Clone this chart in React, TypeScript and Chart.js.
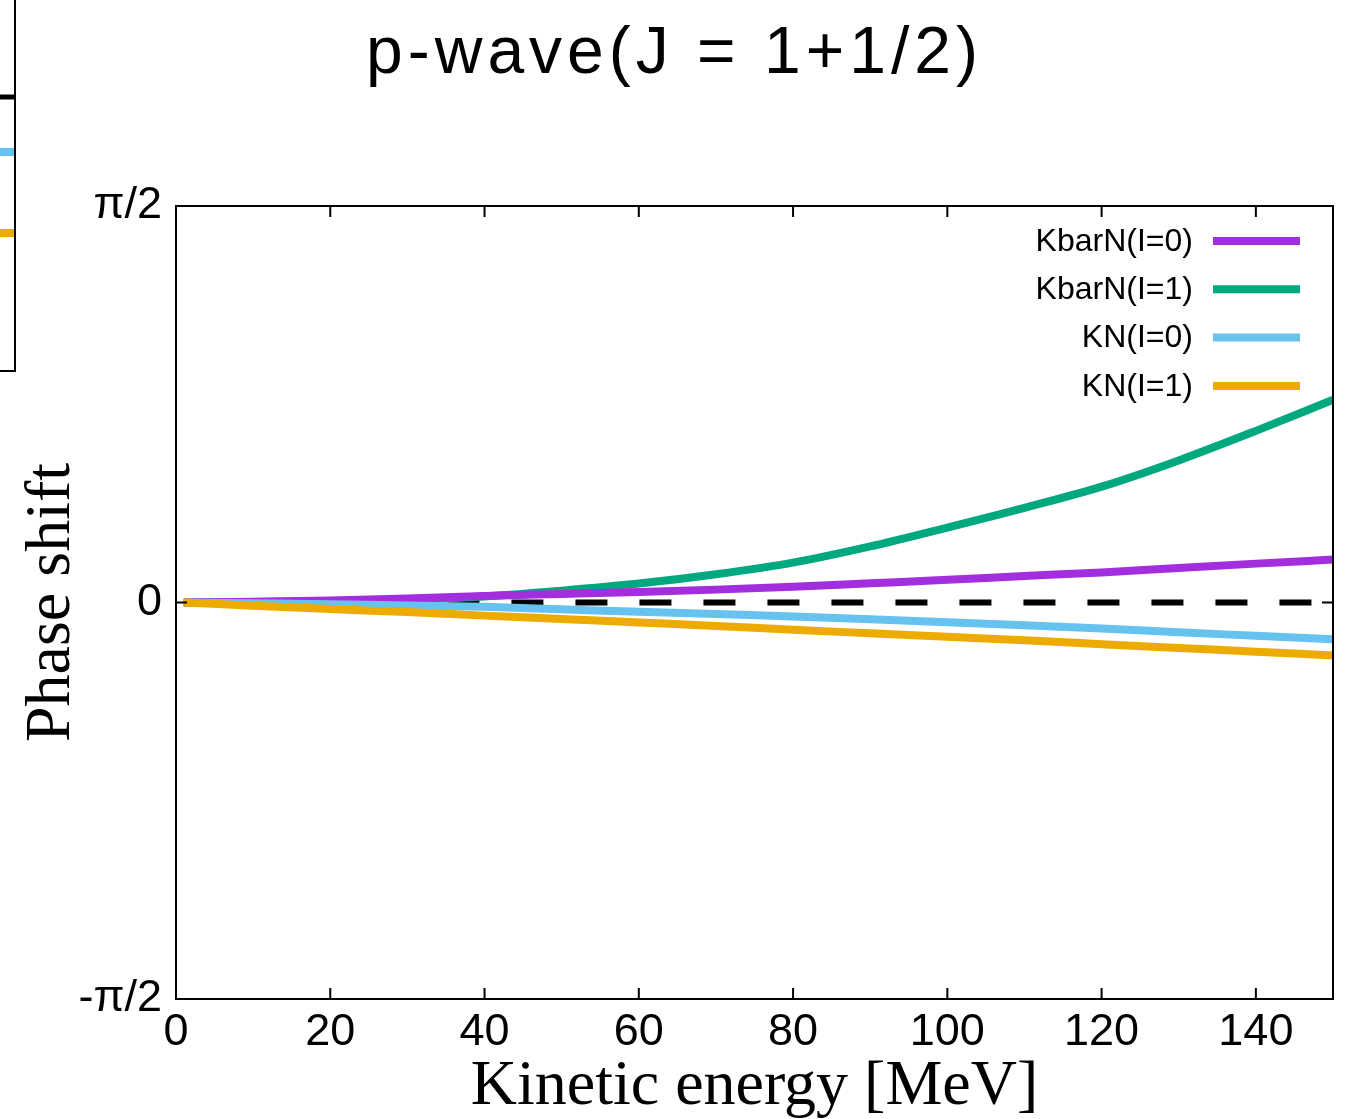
import React, { useEffect, useRef } from 'react';
import { Chart, registerables } from 'chart.js';

Chart.register(...registerables);

// Kinetic energy [MeV]
const energy = [1, 10, 20, 30, 40, 50, 60, 70, 80, 90, 100, 110, 120, 130, 140, 150];
// Phase shifts [rad]
const kbarN_I0 = [0, 0.003, 0.008, 0.016, 0.026, 0.034, 0.042, 0.051, 0.062, 0.076, 0.090, 0.105, 0.119, 0.137, 0.154, 0.170];
const kbarN_I1 = [0, 0.002, 0.005, 0.012, 0.024, 0.047, 0.075, 0.112, 0.158, 0.222, 0.297, 0.375, 0.459, 0.563, 0.680, 0.803];
const kN_I0 = [0, -0.003, -0.007, -0.012, -0.017, -0.027, -0.037, -0.046, -0.055, -0.066, -0.078, -0.090, -0.103, -0.118, -0.132, -0.146];
const kN_I1 = [0, -0.013, -0.026, -0.038, -0.052, -0.065, -0.079, -0.093, -0.108, -0.122, -0.136, -0.150, -0.165, -0.180, -0.195, -0.210];

const zeroLineX = [2, 150];
const zeroLineY = [0, 0];

const seriesLabels = ['KbarN(I=0)', 'KbarN(I=1)', 'KN(I=0)', 'KN(I=1)'];
const seriesValues = [kbarN_I0, kbarN_I1, kN_I0, kN_I1];
const seriesColors = ['#a32ede', '#00a880', '#66c2ee', '#edab00'];

const xTickValues = [0, 20, 40, 60, 80, 100, 120, 140];
const yTickValues = [-Math.PI / 2, 0, Math.PI / 2];
const yTickLabels = ['-π/2', '0', 'π/2'];

const chartTitle = 'p-wave(J = 1+1/2)';
const xTitle = 'Kinetic energy [MeV]';
const yTitle = 'Phase shift';

const SANS = '"Liberation Sans", Arial, sans-serif';
const SERIF = '"Liberation Serif", "Times New Roman", serif';

const framePlugin = {
  id: 'frameTicks',
  afterDatasetsDraw(chart: any) {
    const { ctx, chartArea, scales } = chart;
    const { left, right, top, bottom } = chartArea;
    ctx.save();
    ctx.strokeStyle = '#000';
    ctx.lineWidth = 2;
    ctx.setLineDash([]);
    ctx.strokeRect(left, top, right - left, bottom - top);
    const tl = 11;
    ctx.beginPath();
    xTickValues.forEach((v) => {
      const px = scales.x.getPixelForValue(v);
      ctx.moveTo(px, bottom);
      ctx.lineTo(px, bottom - tl);
      ctx.moveTo(px, top);
      ctx.lineTo(px, top + tl);
    });
    yTickValues.forEach((v) => {
      const py = scales.y.getPixelForValue(v);
      ctx.moveTo(left, py);
      ctx.lineTo(left + tl, py);
      ctx.moveTo(right, py);
      ctx.lineTo(right - tl, py);
    });
    ctx.stroke();
    ctx.restore();
  },
};

const legendPlugin = {
  id: 'sideLegend',
  afterDatasetsDraw(chart: any) {
    const { ctx, chartArea } = chart;
    ctx.save();
    ctx.font = `32px ${SANS}`;
    ctx.fillStyle = '#000';
    ctx.textAlign = 'right';
    ctx.textBaseline = 'middle';
    seriesLabels.forEach((label, i) => {
      const y = chartArea.top + 35 + i * 48.3;
      ctx.fillText(label, chartArea.right - 140, y + 1);
      ctx.beginPath();
      ctx.strokeStyle = seriesColors[i];
      ctx.lineWidth = 8;
      ctx.moveTo(chartArea.right - 120, y);
      ctx.lineTo(chartArea.right - 33, y);
      ctx.stroke();
    });
    ctx.restore();
  },
};

const titlePlugin = {
  id: 'bigTitle',
  afterDraw(chart: any) {
    const { ctx, width } = chart;
    ctx.save();
    ctx.font = `66px ${SANS}`;
    (ctx as any).letterSpacing = '5px';
    ctx.fillStyle = '#000';
    ctx.textAlign = 'center';
    ctx.textBaseline = 'alphabetic';
    ctx.fillText(chartTitle, width / 2 + 2, 73);
    ctx.restore();
  },
};

// cropped remains of a neighbouring panel at the left edge
const edgePlugin = {
  id: 'edgePanel',
  afterDraw(chart: any) {
    const { ctx } = chart;
    ctx.save();
    ctx.strokeStyle = '#000';
    ctx.lineWidth = 2;
    ctx.beginPath();
    ctx.moveTo(15, 0);
    ctx.lineTo(15, 371);
    ctx.lineTo(0, 371);
    ctx.stroke();
    ctx.lineWidth = 5;
    ctx.beginPath();
    ctx.moveTo(0, 97);
    ctx.lineTo(14, 97);
    ctx.stroke();
    ctx.lineWidth = 8;
    ctx.strokeStyle = seriesColors[2];
    ctx.beginPath();
    ctx.moveTo(0, 152);
    ctx.lineTo(14, 152);
    ctx.stroke();
    ctx.strokeStyle = seriesColors[3];
    ctx.beginPath();
    ctx.moveTo(0, 233);
    ctx.lineTo(14, 233);
    ctx.stroke();
    ctx.restore();
  },
};

export default function App() {
  const canvasRef = useRef<HTMLCanvasElement | null>(null);

  useEffect(() => {
    if (!canvasRef.current) return;
    const datasets: any[] = [
      {
        label: 'zero',
        data: zeroLineX.map((x, i) => ({ x, y: zeroLineY[i] })),
        borderColor: '#000',
        borderWidth: 6,
        borderDash: [32, 32],
        pointRadius: 0,
        fill: false,
      },
      ...seriesLabels.map((label, i) => ({
        label,
        data: energy.map((x, j) => ({ x, y: seriesValues[i][j] })),
        borderColor: seriesColors[i],
        borderWidth: 8,
        pointRadius: 0,
        fill: false,
        cubicInterpolationMode: 'monotone',
      })),
    ];
    // draw series in the reference's stacking order (orange at bottom)
    const ordered = [datasets[4], datasets[3], datasets[1], datasets[2], datasets[0]];

    const chart = new Chart(canvasRef.current, {
      type: 'line',
      data: { datasets: ordered },
      options: {
        animation: false,
        responsive: true,
        maintainAspectRatio: false,
        layout: { padding: { top: 206, right: 12, left: 0, bottom: 0 } },
        plugins: {
          legend: { display: false },
          title: { display: false },
          tooltip: { enabled: false },
        },
        elements: { point: { radius: 0 } },
        scales: {
          x: {
            type: 'linear',
            min: 0,
            max: 150,
            afterBuildTicks: (s: any) => {
              s.ticks = xTickValues.map((v) => ({ value: v }));
            },
            afterFit: (s: any) => {
              s.height = 120;
            },
            grid: { display: false, drawTicks: false },
            border: { display: false },
            ticks: {
              color: '#000',
              font: { family: SANS, size: 45 },
              padding: 7,
              maxRotation: 0,
              autoSkip: false,
            },
            title: {
              display: true,
              text: xTitle,
              color: '#000',
              font: { family: SERIF, size: 64, lineHeight: 1 },
              padding: { top: 0, bottom: 0 },
            },
          },
          y: {
            type: 'linear',
            min: -Math.PI / 2,
            max: Math.PI / 2,
            afterBuildTicks: (s: any) => {
              s.ticks = yTickValues.map((v) => ({ value: v }));
            },
            afterFit: (s: any) => {
              s.width = 176;
            },
            grid: { display: false, drawTicks: false },
            border: { display: false },
            ticks: {
              color: '#000',
              font: { family: SANS, size: 45 },
              padding: 14,
              autoSkip: false,
              callback: (v: any) => {
                const idx = yTickValues.findIndex((t) => Math.abs(t - Number(v)) < 1e-9);
                return idx >= 0 ? yTickLabels[idx] : '';
              },
            },
            title: {
              display: true,
              text: yTitle,
              color: '#000',
              font: { family: SERIF, size: 64, lineHeight: 1 },
              padding: { top: 20, bottom: 0 },
            },
          },
        },
      } as any,
      plugins: [framePlugin, legendPlugin, titlePlugin, edgePlugin],
    });
    return () => chart.destroy();
  }, []);

  return (
    <div style={{ position: 'absolute', left: 0, top: 0, width: '1345px', height: '1119px', background: '#fff' }}>
      <canvas ref={canvasRef} />
    </div>
  );
}
